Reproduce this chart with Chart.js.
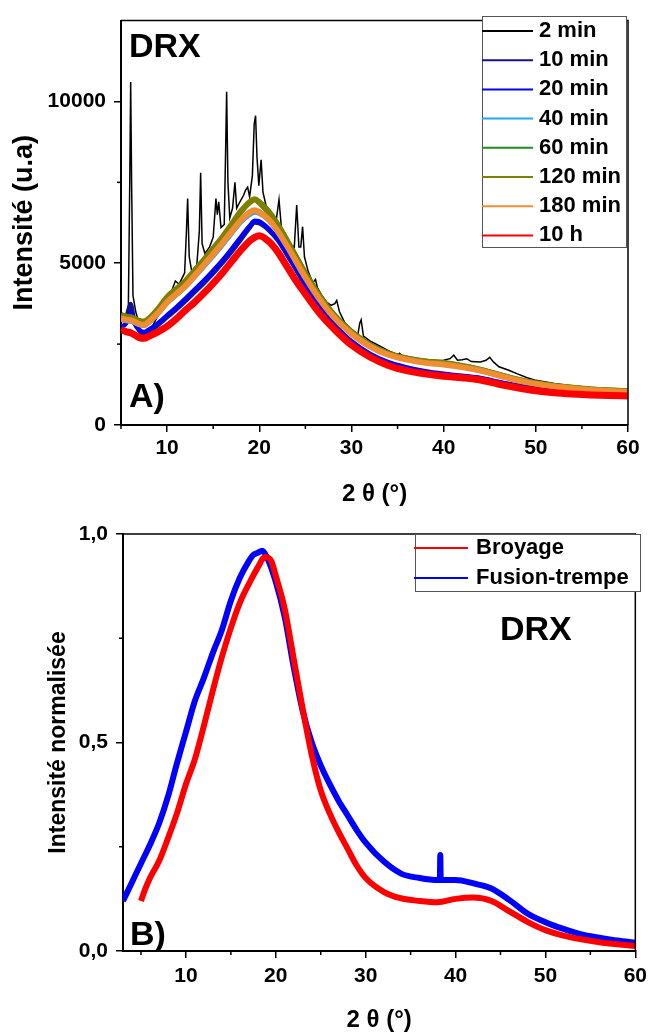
<!DOCTYPE html>
<html lang="fr">
<head>
<meta charset="UTF-8">
<title>DRX</title>
<script src="https://cdn.jsdelivr.net/npm/chart.js"></script>
<style>
    html, body { margin: 0; padding: 0; background: #fff; overflow: hidden; }
    #graficoA { position: absolute; left: 0; top: 0; }
    #graficoB { position: absolute; left: 0; top: 510px; }
</style>
</head>
<body>
<canvas id="graficoA" width="653" height="510"></canvas>
<canvas id="graficoB" width="653" height="523"></canvas>
<script>
    // ---------- A) DRX, intensité (u.a) ----------
    var seriesA = ['2 min', '10 min', '20 min', '40 min', '60 min', '120 min', '180 min', '10 h'];
    var colorsA = ['#000000', '#14148c', '#0000ff', '#20a8f8', '#228b22', '#808000', '#f08c32', '#ff0000'];

    // grille commune pour les courbes amorphes
    var xA = [5, 5.6, 6.05, 6.5, 7, 7.5, 8, 9, 10, 11, 12, 13, 14, 15, 16, 17, 18, 19, 19.5, 20,
        21, 22, 23, 24, 25, 26, 27, 28, 29, 30, 32, 34, 36, 38, 40, 42, 44, 46, 48, 50, 52, 54, 56, 58, 60];

    var y10min = [3000, 3200, 3750, 3150, 2900, 2820, 2880, 3080, 3320, 3560, 3820, 4100, 4380, 4680, 5000, 5350, 5720, 6100, 6250, 6230,
        6020, 5700, 5250, 4780, 4300, 3870, 3470, 3120, 2830, 2580, 2190, 1930, 1770, 1650, 1570, 1510, 1450, 1330, 1220, 1130, 1060, 1010, 970, 950, 930];
    var y20min = [3050, 3150, 3500, 3100, 2950, 2880, 2950, 3150, 3400, 3650, 3920, 4200, 4480, 4780, 5100, 5450, 5820, 6180, 6320, 6300,
        6080, 5750, 5300, 4820, 4340, 3900, 3500, 3150, 2860, 2600, 2210, 1950, 1790, 1670, 1590, 1530, 1460, 1340, 1230, 1140, 1070, 1020, 980, 960, 940];
    var y40min = [3250, 3200, 3190, 3140, 3080, 3060, 3140, 3420, 3750, 4000, 4250, 4560, 4880, 5200, 5540, 5900, 6250, 6500, 6560, 6520,
        6320, 5960, 5520, 5040, 4560, 4120, 3720, 3370, 3080, 2830, 2440, 2180, 2030, 1930, 1870, 1780, 1670, 1520, 1370, 1260, 1180, 1120, 1070, 1040, 1010];
    var y60min = [3350, 3300, 3290, 3240, 3180, 3160, 3250, 3550, 3900, 4160, 4420, 4750, 5080, 5420, 5780, 6180, 6580, 6880, 6960, 6900,
        6620, 6220, 5730, 5220, 4710, 4250, 3830, 3460, 3160, 2900, 2490, 2220, 2070, 1980, 1930, 1840, 1720, 1570, 1420, 1300, 1220, 1160, 1110, 1080, 1060];
    var y120min = [3400, 3350, 3330, 3280, 3220, 3200, 3280, 3580, 3950, 4200, 4450, 4780, 5100, 5450, 5800, 6200, 6600, 6900, 6980, 6880,
        6580, 6170, 5680, 5170, 4660, 4200, 3780, 3420, 3120, 2870, 2470, 2200, 2050, 1960, 1910, 1820, 1700, 1550, 1400, 1290, 1210, 1150, 1100, 1070, 1040];
    var y180min = [3300, 3250, 3240, 3190, 3120, 3100, 3190, 3460, 3800, 4050, 4300, 4620, 4950, 5280, 5620, 5980, 6330, 6580, 6640, 6580,
        6360, 5990, 5540, 5050, 4560, 4110, 3710, 3360, 3070, 2820, 2430, 2170, 2020, 1920, 1870, 1790, 1680, 1530, 1380, 1270, 1190, 1130, 1080, 1050, 1020];
    var y10h = [2950, 2880, 2850, 2780, 2700, 2680, 2740, 2880, 3050, 3280, 3550, 3800, 4080, 4380, 4700, 5050, 5400, 5700, 5800, 5850,
        5680, 5350, 4900, 4450, 4050, 3650, 3300, 3000, 2720, 2470, 2100, 1840, 1680, 1580, 1510, 1460, 1390, 1260, 1150, 1060, 1000, 960, 930, 910, 900];

    // 2 min : pics cristallins, abscisses propres
    var x2min = [5, 5.5, 5.8, 5.95, 6.05, 6.15, 6.3, 6.6, 6.9, 7.3, 7.8, 8.5, 9.5, 10.5, 10.9, 11.3, 11.9, 12.1, 12.23, 12.4,
        12.7, 13.2, 13.5, 13.64, 13.8, 14.1, 14.6, 15.0, 15.3, 15.45, 15.6, 15.85, 16.2, 16.35, 16.46, 16.6, 16.8, 17.1, 17.36, 17.55,
        17.9, 18.3, 18.5, 18.74, 18.95, 19.25, 19.45, 19.6, 19.75, 19.95, 20.2, 20.4, 20.8, 21.3, 21.8, 22.14, 22.4, 22.8, 23.3, 23.8,
        24.06, 24.3, 24.5, 24.7, 24.9, 25.3, 25.8, 26.1, 26.3, 26.8, 27.3, 27.8, 28.2, 28.4, 28.7, 29.3, 30, 30.7, 30.9, 31.05,
        31.3, 32, 33, 34, 35, 35.2, 35.5, 37, 38, 39, 40, 40.7, 41.1, 41.5, 42, 42.5, 43, 44, 44.6, 45,
        45.4, 46, 47, 48, 49, 50, 52, 54, 56, 58, 60];
    var y2min = [3450, 3400, 3700, 7500, 10600, 7500, 4000, 3500, 3200, 2650, 2750, 3100, 3650, 4150, 4450, 4350, 4700, 6000, 7000, 5200,
        4700, 4850, 6000, 7800, 5600, 5300, 5500, 5800, 7000, 6500, 6900, 6100, 6200, 8500, 10300, 7500, 6400, 6700, 7500, 6700,
        6900, 7100, 7250, 7350, 7050, 7700, 9300, 9560, 8300, 7400, 8200, 7200, 6700, 6400, 6250, 6970, 6100, 5900, 5600, 5500,
        6800, 5500, 5500, 6130, 5200, 4750, 4400, 4500, 4250, 4000, 3800, 3700, 3750, 3850, 3500, 3150, 2950, 2800, 3150, 3250,
        2750, 2600, 2450, 2300, 2170, 2220, 2130, 2050, 2000, 1990, 2000, 2050, 2160, 2000, 2020, 2050, 1960, 1950, 2000, 2090,
        1950, 1800, 1700, 1580, 1470, 1380, 1280, 1200, 1150, 1110, 1080];

    var ticksXA = [10, 20, 30, 40, 50, 60];
    var minorXA = [5, 15, 25, 35, 45, 55];
    var ticksYA = [0, 5000, 10000];
    var minorYA = [2500, 7500];

    // ---------- B) DRX, intensité normalisée ----------
    var seriesB = ['Broyage', 'Fusion-trempe'];
    var colorsB = ['#ff0000', '#0000ff'];
    var xBroyage = [5, 5.5, 6, 7, 8, 9, 10, 11, 12, 13, 14, 15, 16, 17, 18, 18.8, 19.5, 20, 21, 22,
        23, 24, 25, 26, 27, 28, 29, 30, 32, 34, 36, 38, 40, 42, 44, 46, 48, 50, 52, 54, 56, 58, 60];
    var yBroyage = [0.12, 0.15, 0.175, 0.215, 0.27, 0.33, 0.4, 0.46, 0.54, 0.625, 0.705, 0.775, 0.835, 0.88, 0.92, 0.945, 0.935, 0.9, 0.82, 0.7,
        0.58, 0.47, 0.385, 0.33, 0.285, 0.245, 0.205, 0.175, 0.142, 0.126, 0.12, 0.117, 0.125, 0.128, 0.12, 0.095, 0.07, 0.05, 0.037, 0.028, 0.021, 0.016, 0.012];
    var xFusion = [3, 4, 5, 6, 7, 8, 9, 10, 11, 12, 13, 14, 15, 16, 17, 17.5, 18, 18.5, 19, 20,
        21, 22, 23, 24, 25, 26, 27, 28, 29, 30, 32, 34, 36, 38, 38.25, 38.3, 38.35, 40, 42, 44, 46, 48, 50, 52, 54, 56, 58, 60];
    var yFusion = [0.12, 0.165, 0.21, 0.255, 0.305, 0.37, 0.45, 0.525, 0.6, 0.655, 0.715, 0.77, 0.84, 0.895, 0.935, 0.95, 0.955, 0.96, 0.945, 0.885,
        0.8, 0.68, 0.575, 0.5, 0.445, 0.4, 0.36, 0.325, 0.29, 0.26, 0.215, 0.185, 0.175, 0.17, 0.17, 0.23, 0.17, 0.17, 0.162, 0.15, 0.122, 0.09, 0.069, 0.053, 0.04, 0.032, 0.025, 0.02];

    var ticksXB = [10, 20, 30, 40, 50, 60];
    var minorXB = [5, 15, 25, 35, 45, 55];
    var ticksYB = [0, 0.5, 1];
    var minorYB = [0.25, 0.75];

    Chart.defaults.font.family = "'Liberation Sans', Arial, sans-serif";
    Chart.defaults.color = '#000';

    function pontos(xs, ys) {
        return xs.map(function (x, i) { return { x: x, y: ys[i] }; });
    }

    // cadre, petites graduations, textes et légende
    var decor = {
        id: 'decor',
        afterDraw: function (chart, args, opts) {
            var ctx = chart.ctx;
            var area = chart.chartArea;
            var sx = chart.scales.x, sy = chart.scales.y;
            ctx.save();
            ctx.strokeStyle = '#000';
            ctx.lineWidth = 1.5;
            ctx.beginPath();
            ctx.moveTo(area.left, area.top);
            ctx.lineTo(area.right, area.top);
            ctx.lineTo(area.right, area.bottom);
            ctx.stroke();

            opts.minorX.forEach(function (v) {
                var p = sx.getPixelForValue(v);
                ctx.beginPath(); ctx.moveTo(p, area.bottom); ctx.lineTo(p, area.bottom + 4); ctx.stroke();
            });
            opts.minorY.forEach(function (v) {
                var p = sy.getPixelForValue(v);
                ctx.beginPath(); ctx.moveTo(area.left - 4, p); ctx.lineTo(area.left, p); ctx.stroke();
            });

            ctx.fillStyle = '#000';
            ctx.textAlign = 'left';
            ctx.textBaseline = 'alphabetic';
            opts.texts.forEach(function (t) {
                ctx.font = t.font;
                ctx.fillText(t.text, t.x, t.y);
            });

            var lg = opts.legend;
            ctx.fillStyle = '#fff';
            ctx.fillRect(lg.left, lg.top, lg.right - lg.left, lg.bottom - lg.top);
            ctx.strokeStyle = '#555';
            ctx.lineWidth = 1;
            ctx.strokeRect(lg.left + 0.5, lg.top + 0.5, lg.right - lg.left, lg.bottom - lg.top);
            ctx.font = "bold 22px 'Liberation Sans', Arial, sans-serif";
            ctx.textBaseline = 'middle';
            chart.data.datasets.forEach(function (ds, i) {
                var y = lg.y0 + i * lg.dy;
                ctx.strokeStyle = ds.borderColor;
                ctx.lineWidth = 2;
                ctx.beginPath(); ctx.moveTo(lg.lineX0, y); ctx.lineTo(lg.lineX1, y); ctx.stroke();
                ctx.fillStyle = '#000';
                ctx.fillText(ds.label, lg.textX, y);
            });
            ctx.restore();
        }
    };

    function eixoX(ticks, pad, titlePad, fixedH) {
        return {
            type: 'linear', min: 0, max: 60,
            afterBuildTicks: function (axis) { axis.ticks = ticks.map(function (v) { return { value: v }; }); },
            afterFit: function (axis) { axis.height = fixedH; },
            ticks: { font: { size: 21, weight: 'bold' }, padding: pad, callback: function (v) { return String(v); } },
            grid: { drawOnChartArea: false, tickLength: 7, color: '#000', lineWidth: 1.5 },
            border: { color: '#000', width: 2 },
            title: { display: true, text: '2 θ (°)', font: { size: 24, weight: 'bold', lineHeight: 1 }, padding: { top: 0, bottom: titlePad } }
        };
    }

    function eixoY(ticks, fmt, title, titleSize, titlePad, fixedW) {
        return {
            afterBuildTicks: function (axis) { axis.ticks = ticks.map(function (v) { return { value: v }; }); },
            afterFit: function (axis) { axis.width = fixedW; },
            ticks: { font: { size: 21, weight: 'bold' }, padding: 8, callback: fmt },
            grid: { drawOnChartArea: false, tickLength: 7, color: '#000', lineWidth: 1.5 },
            border: { color: '#000', width: 2 },
            title: { display: true, text: title, font: { size: titleSize, weight: 'bold', lineHeight: 1 }, padding: { top: titlePad, bottom: 0 } }
        };
    }

    // ---------- graphique A ----------
    var ysA = [y2min, y10min, y20min, y40min, y60min, y120min, y180min, y10h];
    var widthsA = [1.5, 4, 4, 4, 5, 6, 6, 7];
    var ordemA = [7, 6, 5, 4, 3, 2, 1, 0];
    var datasetsA = seriesA.map(function (nome, i) {
        return {
            label: nome,
            data: i === 0 ? pontos(x2min, y2min) : pontos(xA, ysA[i]),
            borderColor: colorsA[i],
            borderWidth: widthsA[i],
            pointRadius: 0,
            cubicInterpolationMode: i === 0 ? 'default' : 'monotone',
            tension: i === 0 ? 0 : 0.4,
            order: ordemA[i]
        };
    });

    var xScaleA = eixoX(ticksXA, 4, 4, 85);
    xScaleA.min = 5;
    new Chart(document.getElementById('graficoA').getContext('2d'), {
        type: 'line',
        data: { datasets: datasetsA },
        options: {
            responsive: false,
            animation: false,
            devicePixelRatio: 1,
            layout: { padding: { left: 0, right: 25, top: 16, bottom: 0 } },
            scales: {
                x: xScaleA,
                y: Object.assign(eixoY(ticksYA, function (v) { return String(v); }, 'Intensité (u.a)', 27, 11, 121), { min: 0, max: 12500 })
            },
            plugins: {
                legend: { display: false },
                tooltip: { enabled: false },
                decor: {
                    minorX: minorXA,
                    minorY: minorYA,
                    texts: [
                        { text: 'DRX', x: 129, y: 57, font: "bold 34px 'Liberation Sans', Arial, sans-serif" },
                        { text: 'A)', x: 129, y: 407, font: "bold 34px 'Liberation Sans', Arial, sans-serif" }
                    ],
                    legend: { left: 482, top: 16, right: 626, bottom: 247, lineX0: 482, lineX1: 533, textX: 539, y0: 31, dy: 29.2 }
                }
            }
        },
        plugins: [decor]
    });

    // ---------- graphique B ----------
    var xScaleB = eixoX(ticksXB, 6, 1, 82);
    xScaleB.min = 3;
    new Chart(document.getElementById('graficoB').getContext('2d'), {
        type: 'line',
        data: {
            datasets: [
                { label: seriesB[0], data: pontos(xBroyage, yBroyage), borderColor: colorsB[0], borderWidth: 6, pointRadius: 0, cubicInterpolationMode: 'monotone', order: 0 },
                { label: seriesB[1], data: pontos(xFusion, yFusion), borderColor: colorsB[1], borderWidth: 6, pointRadius: 0, cubicInterpolationMode: 'monotone', order: 1 }
            ]
        },
        options: {
            responsive: false,
            animation: false,
            devicePixelRatio: 1,
            layout: { padding: { left: 0, right: 13, top: 24, bottom: 0 } },
            scales: {
                x: xScaleB,
                y: Object.assign(eixoY(ticksYB, function (v) { return v.toFixed(1).replace('.', ','); }, 'Intensité normalisée', 23, 47, 123), { min: 0, max: 1 })
            },
            plugins: {
                legend: { display: false },
                tooltip: { enabled: false },
                decor: {
                    minorX: minorXB,
                    minorY: minorYB,
                    texts: [
                        { text: 'DRX', x: 500, y: 130, font: "bold 34px 'Liberation Sans', Arial, sans-serif" },
                        { text: 'B)', x: 130, y: 435, font: "bold 34px 'Liberation Sans', Arial, sans-serif" }
                    ],
                    legend: { left: 415, top: 24, right: 640, bottom: 81, lineX0: 414, lineX1: 468, textX: 476, y0: 38, dy: 30 }
                }
            }
        },
        plugins: [decor]
    });
</script>
</body>
</html>
